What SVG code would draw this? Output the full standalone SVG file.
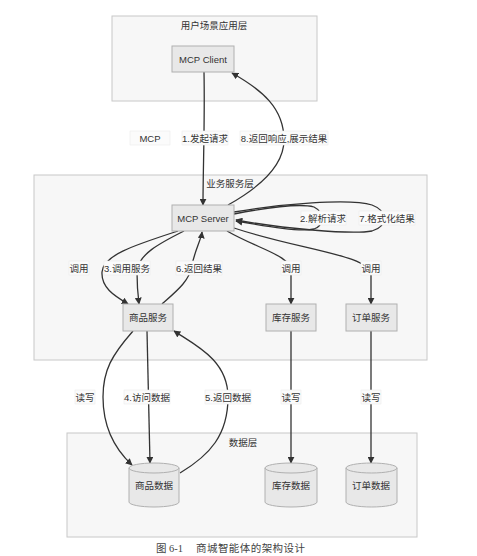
<svg xmlns="http://www.w3.org/2000/svg" width="477" height="556" viewBox="0 0 477 556">
<defs>
<marker id="arr" viewBox="0 0 10 10" refX="9" refY="5" markerWidth="7" markerHeight="7" orient="auto-start-reverse" markerUnits="userSpaceOnUse">
<path d="M0,0 L10,5 L0,10 z" fill="#333"/>
</marker>
<style>
.cluster{fill:#f7f7f7;stroke:#c8c8c8;stroke-width:1}
.node rect,.node path.body{fill:#e8e8e8;stroke:#b0b0b0;stroke-width:1}
text{font-family:"Liberation Sans","Noto Sans CJK SC",sans-serif;font-size:9.5px;fill:#333}
.t{text-anchor:middle;dominant-baseline:central}
.edge{fill:none;stroke:#333;stroke-width:1.3;marker-end:url(#arr)}
.lbl{fill:#fbfbfb;stroke:#ececec;stroke-width:0.6}
.cap{font-family:"Liberation Serif","Noto Sans CJK SC",serif;font-size:10.5px;fill:#444}
</style>
</defs>
<rect width="477" height="556" fill="#fff"/>
<g id="clusters">
<rect class="cluster" x="112" y="16" width="205" height="85"/>
<text class="t" x="214" y="25">用户场景应用层</text>
<rect class="cluster" x="34" y="175" width="393" height="185"/>
<text class="t" x="230" y="183">业务服务层</text>
<rect class="cluster" x="67" y="433" width="350" height="104"/>
<text class="t" x="243" y="442">数据层</text>
</g>
<g id="edges">
<path class="edge" d="M204,72 C205,120 203,170 203,205"/>
<path class="edge" d="M228,205 C262,186 284,165 284,140 C284,108 262,90 232,73"/>
<path class="edge" d="M234,214 C270,207 300,203 314,207 C324,212 324,226 314,229 C300,232 270,227 236,221"/>
<path class="edge" d="M234,212 C280,204 350,198 372,205 C388,211 388,226 372,231 C350,235 280,228 236,220"/>
<path class="edge" d="M178,231 C135,245 103,255 102,272 C101,288 115,296 128,304"/>
<path class="edge" d="M184,231 C160,243 137,255 137,272 C137,285 138,296 139,304"/>
<path class="edge" d="M162,304 C178,290 190,280 192,265 C195,250 201,240 202,232"/>
<path class="edge" d="M227,231 C260,250 291,255 291,272 L291,304"/>
<path class="edge" d="M234,228 C300,250 371,255 371,275 L371,304"/>
<path class="edge" d="M133,331 C112,355 103,370 103,397 C103,430 118,452 132,465"/>
<path class="edge" d="M147,331 L150,463"/>
<path class="edge" d="M180,473 C210,455 228,435 228,397 C228,360 195,345 174,331"/>
<path class="edge" d="M291,331 L291,463"/>
<path class="edge" d="M371,331 L371,463"/>
</g>
<g id="edge-labels">
<rect class="lbl" x="130" y="131" width="40" height="14"/><text class="t" x="150" y="138">MCP</text>
<rect class="lbl" x="182" y="131" width="46" height="14"/><text class="t" x="205" y="138">1.发起请求</text>
<rect class="lbl" x="240" y="131" width="88" height="14"/><text class="t" x="284" y="138">8.返回响应,展示结果</text>
<rect class="lbl" x="301" y="211" width="45" height="14"/><text class="t" x="323" y="218">2.解析请求</text>
<rect class="lbl" x="359" y="211" width="56" height="14"/><text class="t" x="387" y="218">7.格式化结果</text>
<rect class="lbl" x="69" y="261" width="20" height="14"/><text class="t" x="79" y="268">调用</text>
<rect class="lbl" x="104" y="261" width="46" height="14"/><text class="t" x="127" y="268">3.调用服务</text>
<rect class="lbl" x="176" y="261" width="46" height="14"/><text class="t" x="199" y="268">6.返回结果</text>
<rect class="lbl" x="281" y="261" width="20" height="14"/><text class="t" x="291" y="268">调用</text>
<rect class="lbl" x="361" y="261" width="20" height="14"/><text class="t" x="371" y="268">调用</text>
<rect class="lbl" x="75" y="390" width="20" height="14"/><text class="t" x="85" y="397">读写</text>
<rect class="lbl" x="124" y="390" width="46" height="14"/><text class="t" x="147" y="397">4.访问数据</text>
<rect class="lbl" x="205" y="390" width="46" height="14"/><text class="t" x="228" y="397">5.返回数据</text>
<rect class="lbl" x="281" y="390" width="20" height="14"/><text class="t" x="291" y="397">读写</text>
<rect class="lbl" x="361" y="390" width="20" height="14"/><text class="t" x="371" y="397">读写</text>
</g>
<g id="mcp-client" class="node"><rect x="172" y="46" width="62" height="26"/><text class="t" x="203" y="59">MCP Client</text></g>
<g id="mcp-server" class="node"><rect x="172" y="205" width="62" height="26"/><text class="t" x="203" y="218">MCP Server</text></g>
<g id="product-service" class="node"><rect x="123" y="304" width="50" height="27"/><text class="t" x="148" y="317">商品服务</text></g>
<g id="inventory-service" class="node"><rect x="266" y="304" width="50" height="27"/><text class="t" x="291" y="317">库存服务</text></g>
<g id="order-service" class="node"><rect x="346" y="304" width="51" height="27"/><text class="t" x="371" y="317">订单服务</text></g>
<g id="product-data" class="node"><path class="body" d="M129,468 a25,5 0 0 1 50,0 L179,502 a25,5 0 0 1 -50,0 Z"/><path d="M129,468 a25,5 0 0 0 50,0" fill="none" stroke="#b0b0b0"/><text class="t" x="154" y="485">商品数据</text></g>
<g id="inventory-data" class="node"><path class="body" d="M265,468 a26,5 0 0 1 52,0 L317,502 a26,5 0 0 1 -52,0 Z"/><path d="M265,468 a26,5 0 0 0 52,0" fill="none" stroke="#b0b0b0"/><text class="t" x="291" y="485">库存数据</text></g>
<g id="order-data" class="node"><path class="body" d="M346,468 a25.5,5 0 0 1 51,0 L397,502 a25.5,5 0 0 1 -51,0 Z"/><path d="M346,468 a25.5,5 0 0 0 51,0" fill="none" stroke="#b0b0b0"/><text class="t" x="371" y="485">订单数据</text></g>
<g id="caption">
<text class="cap" x="156" y="552">图 6-1</text>
<text class="cap" x="196" y="552" textLength="109" lengthAdjust="spacing">商城智能体的架构设计</text>
</g>
</svg>
